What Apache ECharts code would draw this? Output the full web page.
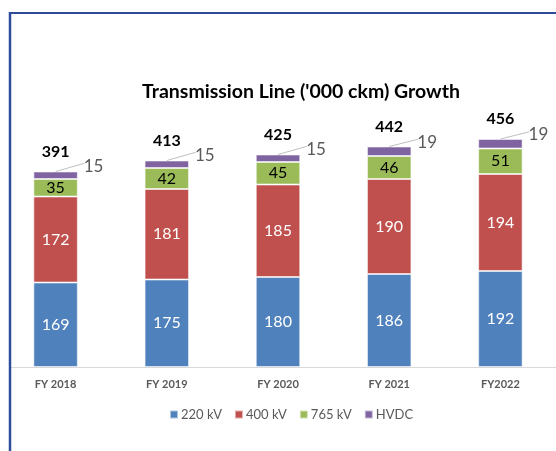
<!DOCTYPE html>
<html>
<head>
<meta charset="utf-8">
<script src="https://cdn.jsdelivr.net/npm/echarts@6/dist/echarts.min.js"></script>
<style>
  html, body { margin: 0; padding: 0; background: #fff; }
  #chart { width: 556px; height: 451px; }
</style>
</head>
<body>
<div id="chart"></div>
<script>
// Transmission line length by voltage class ('000 circuit km)
const years = ['FY 2018', 'FY 2019', 'FY 2020', 'FY 2021', 'FY2022'];
const kv220 = [169, 175, 180, 186, 192];
const kv400 = [172, 181, 185, 190, 194];
const kv765 = [35, 42, 45, 46, 51];
const hvdc = [15, 15, 15, 19, 19];
const totals = [391, 413, 425, 442, 456];

const FONT = 'Lato, "Open Sans", sans-serif';
const chart = echarts.init(document.getElementById('chart'));

const segment = (name, data, color, labelColor) => ({
  name, type: 'bar', stack: 'len', data, barWidth: '40%',
  itemStyle: { color, borderColor: 'rgba(255,255,255,0.55)', borderWidth: 1 },
  label: { show: true, position: 'inside', color: labelColor, fontSize: 16, fontFamily: FONT }
});

const frame = [
  { type: 'rect', z: 100, shape: { x: 0, y: 0, width: 9, height: 451 }, style: { fill: '#fff' } },
  { type: 'line', z: 101, shape: { x1: 10, y1: 13, x2: 556, y2: 13 }, style: { stroke: '#2F4B9C', lineWidth: 2 } },
  { type: 'line', z: 101, shape: { x1: 10, y1: 12, x2: 10, y2: 451 }, style: { stroke: '#2F4B9C', lineWidth: 2.5 } }
];

chart.setOption({
  animation: false,
  title: {
    text: "Transmission Line ('000 ckm) Growth",
    left: 296, top: 77, textAlign: 'center',
    textStyle: { fontFamily: FONT, fontWeight: 'bold', fontSize: 19.5, color: '#000' }
  },
  legend: {
    data: ['220 kV', '400 kV', '765 kV', 'HVDC'],
    left: 164, top: 403, itemWidth: 8, itemHeight: 8, itemGap: 12,
    icon: 'rect',
    textStyle: { fontFamily: FONT, fontSize: 13, color: '#595959', padding: [0, 0, 0, -2] }
  },
  grid: { left: -2, width: 560, top: 117, height: 250 },
  xAxis: {
    type: 'category', data: years,
    axisLine: { lineStyle: { color: '#d9d9d9' } },
    axisTick: { show: false },
    axisLabel: { fontFamily: FONT, fontWeight: 'bold', fontSize: 11, color: '#595959', margin: 12 }
  },
  yAxis: { type: 'value', min: 0, max: 500, show: false, splitLine: { show: false } },
  series: [
    segment('220 kV', kv220, '#4F81BD', '#fff'),
    segment('400 kV', kv400, '#C0504D', '#fff'),
    segment('765 kV', kv765, '#9BBB59', '#000'),
    {
      name: 'HVDC', type: 'bar', stack: 'len', data: hvdc, barWidth: '40%',
      itemStyle: { color: '#8064A2', borderColor: 'rgba(255,255,255,0.55)', borderWidth: 1 },
      label: { show: true, position: 'inside', color: '#595959', fontSize: 17, fontFamily: FONT },
      labelLayout: { dx: 38, dy: -9 }
    },
    {
      name: 'Total', type: 'bar', stack: 'len', data: years.map(() => 0), barWidth: '40%',
      itemStyle: { color: 'transparent' },
      label: {
        show: true, position: 'top', distance: 12,
        formatter: p => totals[p.dataIndex],
        color: '#000', fontWeight: 'bold', fontSize: 16, fontFamily: FONT
      }
    }
  ],
  graphic: frame
});

// Leader lines from each stack top to its HVDC label, placed with the chart's own scales
const leaders = years.map((y, i) => {
  const stackTop = kv220[i] + kv400[i] + kv765[i] + hvdc[i];
  const [cx, top] = chart.convertToPixel({ seriesIndex: 0 }, [i, stackTop]);
  const [, hvdcBase] = chart.convertToPixel({ seriesIndex: 0 }, [i, stackTop - hvdc[i]]);
  const labelY = (top + hvdcBase) / 2 - 9;
  return {
    type: 'line', z: 50,
    shape: { x1: cx, y1: top, x2: cx + 29, y2: labelY - 3 },
    style: { stroke: '#bfbfbf', lineWidth: 1 }
  };
});
chart.setOption({ graphic: frame.concat(leaders) });
</script>
</body>
</html>
